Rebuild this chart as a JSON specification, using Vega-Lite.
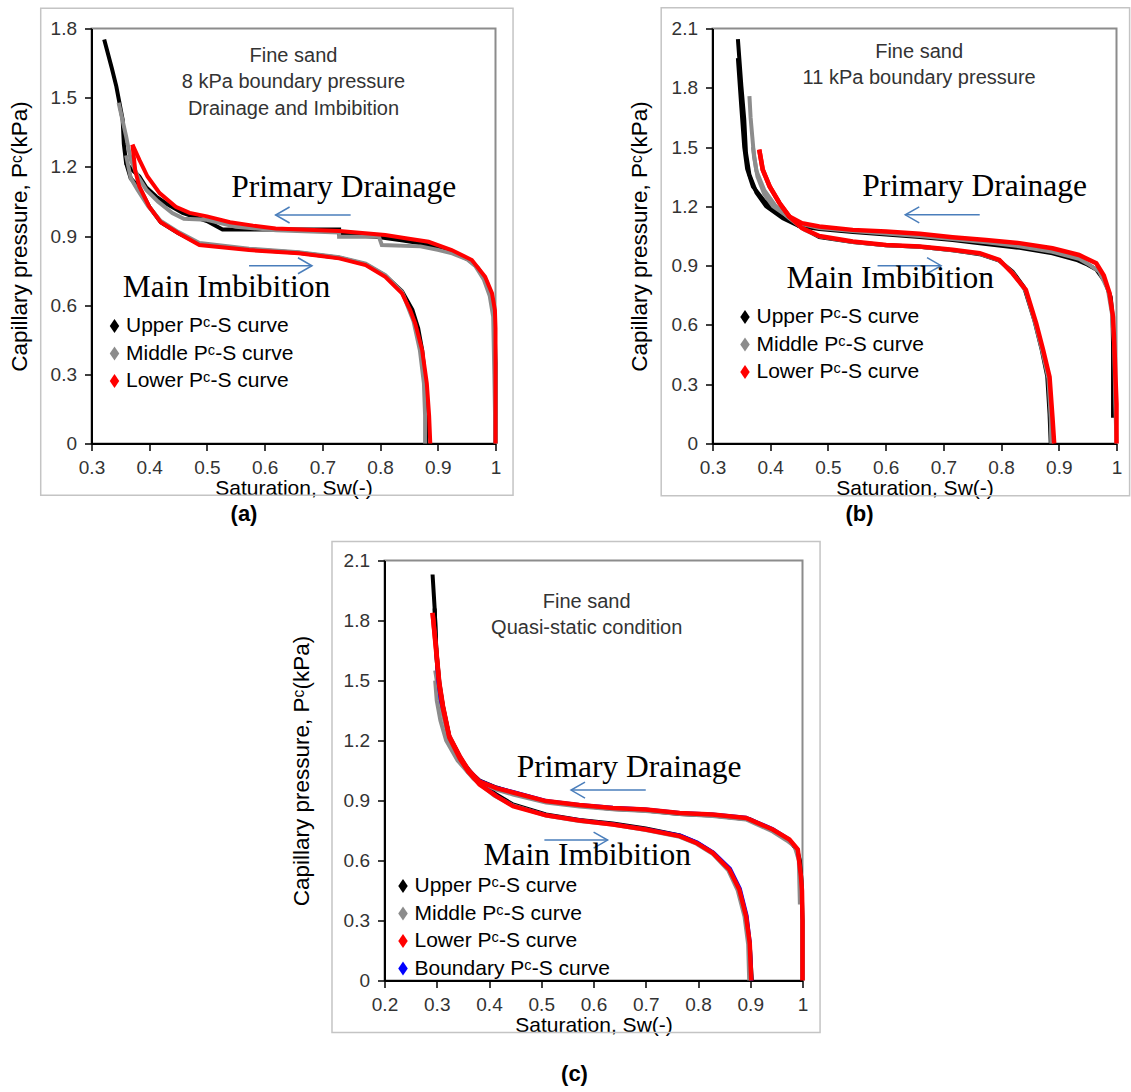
{
"$schema": "https://vega.github.io/schema/vega-lite/v6.json",
"background": "white",
"padding": {"left": 7.5, "top": 5.5, "right": 0, "bottom": 4},
"config": {
  "view": {"stroke": "#8c8c8c", "strokeWidth": 2},
  "font": "Liberation Sans",
  "axis": {"grid": false, "domainColor": "#000", "domainWidth": 2, "tickColor": "#000", "tickWidth": 1.5, "tickSize": 7, "labelFont": "Liberation Sans", "labelFontSize": 19, "labelColor": "#333", "labelPadding": 8, "titleFont": "Liberation Sans", "titleFontSize": 21, "titleFontWeight": "normal", "titleColor": "#000"},
  "axisX": {"titlePadding": 0, "labelFlush": false},
  "axisY": {"titleFontSize": 22.5},
  "legend": {"padding": 0, "labelFont": "Liberation Sans", "labelFontSize": 21, "labelColor": "#000", "rowPadding": 5.5, "labelOffset": 1, "labelLimit": 400, "symbolSize": 196},
  "title": {"font": "Liberation Sans", "fontSize": 22, "fontWeight": "bold", "orient": "bottom", "anchor": "middle", "color": "#000", "offset": 5}
},
"datasets": {
"A": [
{"c":"Upper","b":"D","S":1,"P":0},{"c":"Upper","b":"D","S":1,"P":0.35},{"c":"Upper","b":"D","S":0.998,"P":0.55},{"c":"Upper","b":"D","S":0.994,"P":0.63},{"c":"Upper","b":"D","S":0.985,"P":0.7},{"c":"Upper","b":"D","S":0.97,"P":0.76},{"c":"Upper","b":"D","S":0.955,"P":0.795},{"c":"Upper","b":"D","S":0.93,"P":0.825},{"c":"Upper","b":"D","S":0.9,"P":0.85},{"c":"Upper","b":"D","S":0.87,"P":0.868},{"c":"Upper","b":"D","S":0.84,"P":0.88},{"c":"Upper","b":"D","S":0.8,"P":0.895},{"c":"Upper","b":"D","S":0.729,"P":0.91},{"c":"Upper","b":"D","S":0.729,"P":0.928},{"c":"Upper","b":"D","S":0.527,"P":0.928},{"c":"Upper","b":"D","S":0.5,"P":0.965},{"c":"Upper","b":"D","S":0.458,"P":1.0},{"c":"Upper","b":"D","S":0.43,"P":1.04},{"c":"Upper","b":"D","S":0.412,"P":1.071},{"c":"Upper","b":"D","S":0.395,"P":1.11},{"c":"Upper","b":"D","S":0.383,"P":1.158},{"c":"Upper","b":"D","S":0.365,"P":1.2},{"c":"Upper","b":"D","S":0.36,"P":1.216},{"c":"Upper","b":"D","S":0.356,"P":1.3},{"c":"Upper","b":"D","S":0.354,"P":1.404},{"c":"Upper","b":"D","S":0.343,"P":1.549},{"c":"Upper","b":"D","S":0.335,"P":1.63},{"c":"Upper","b":"D","S":0.322,"P":1.752},
{"c":"Upper","b":"I","S":0.36,"P":1.216},{"c":"Upper","b":"I","S":0.368,"P":1.15},{"c":"Upper","b":"I","S":0.383,"P":1.11},{"c":"Upper","b":"I","S":0.4,"P":1.027},{"c":"Upper","b":"I","S":0.42,"P":0.96},{"c":"Upper","b":"I","S":0.45,"P":0.913},{"c":"Upper","b":"I","S":0.487,"P":0.865},{"c":"Upper","b":"I","S":0.573,"P":0.842},{"c":"Upper","b":"I","S":0.659,"P":0.827},{"c":"Upper","b":"I","S":0.729,"P":0.806},{"c":"Upper","b":"I","S":0.775,"P":0.777},{"c":"Upper","b":"I","S":0.809,"P":0.728},{"c":"Upper","b":"I","S":0.838,"P":0.66},{"c":"Upper","b":"I","S":0.856,"P":0.58},{"c":"Upper","b":"I","S":0.866,"P":0.5},{"c":"Upper","b":"I","S":0.873,"P":0.404},{"c":"Upper","b":"I","S":0.878,"P":0.28},{"c":"Upper","b":"I","S":0.88,"P":0.15},{"c":"Upper","b":"I","S":0.88,"P":0},
{"c":"Middle","b":"D","S":1,"P":0},{"c":"Middle","b":"D","S":0.998,"P":0.3},{"c":"Middle","b":"D","S":0.996,"P":0.55},{"c":"Middle","b":"D","S":0.99,"P":0.64},{"c":"Middle","b":"D","S":0.98,"P":0.71},{"c":"Middle","b":"D","S":0.965,"P":0.77},{"c":"Middle","b":"D","S":0.95,"P":0.8},{"c":"Middle","b":"D","S":0.925,"P":0.825},{"c":"Middle","b":"D","S":0.9,"P":0.84},{"c":"Middle","b":"D","S":0.87,"P":0.855},{"c":"Middle","b":"D","S":0.803,"P":0.861},{"c":"Middle","b":"D","S":0.798,"P":0.897},{"c":"Middle","b":"D","S":0.729,"P":0.897},{"c":"Middle","b":"D","S":0.729,"P":0.915},{"c":"Middle","b":"D","S":0.62,"P":0.925},{"c":"Middle","b":"D","S":0.55,"P":0.94},{"c":"Middle","b":"D","S":0.5,"P":0.97},{"c":"Middle","b":"D","S":0.46,"P":0.975},{"c":"Middle","b":"D","S":0.44,"P":1.0},{"c":"Middle","b":"D","S":0.415,"P":1.05},{"c":"Middle","b":"D","S":0.395,"P":1.1},{"c":"Middle","b":"D","S":0.38,"P":1.16},{"c":"Middle","b":"D","S":0.368,"P":1.23},{"c":"Middle","b":"D","S":0.36,"P":1.332},{"c":"Middle","b":"D","S":0.347,"P":1.478},
{"c":"Middle","b":"I","S":0.36,"P":1.25},{"c":"Middle","b":"I","S":0.368,"P":1.15},{"c":"Middle","b":"I","S":0.38,"P":1.1},{"c":"Middle","b":"I","S":0.398,"P":1.03},{"c":"Middle","b":"I","S":0.42,"P":0.965},{"c":"Middle","b":"I","S":0.45,"P":0.918},{"c":"Middle","b":"I","S":0.487,"P":0.87},{"c":"Middle","b":"I","S":0.573,"P":0.845},{"c":"Middle","b":"I","S":0.659,"P":0.83},{"c":"Middle","b":"I","S":0.729,"P":0.808},{"c":"Middle","b":"I","S":0.775,"P":0.78},{"c":"Middle","b":"I","S":0.809,"P":0.73},{"c":"Middle","b":"I","S":0.838,"P":0.658},{"c":"Middle","b":"I","S":0.858,"P":0.53},{"c":"Middle","b":"I","S":0.869,"P":0.404},{"c":"Middle","b":"I","S":0.876,"P":0.26},{"c":"Middle","b":"I","S":0.878,"P":0.12},{"c":"Middle","b":"I","S":0.878,"P":0},
{"c":"Lower","b":"D","S":1,"P":0},{"c":"Lower","b":"D","S":1,"P":0.3},{"c":"Lower","b":"D","S":1,"P":0.5},{"c":"Lower","b":"D","S":0.999,"P":0.578},{"c":"Lower","b":"D","S":0.994,"P":0.651},{"c":"Lower","b":"D","S":0.982,"P":0.723},{"c":"Lower","b":"D","S":0.959,"P":0.796},{"c":"Lower","b":"D","S":0.924,"P":0.839},{"c":"Lower","b":"D","S":0.884,"P":0.875},{"c":"Lower","b":"D","S":0.85,"P":0.888},{"c":"Lower","b":"D","S":0.809,"P":0.904},{"c":"Lower","b":"D","S":0.729,"P":0.922},{"c":"Lower","b":"D","S":0.619,"P":0.933},{"c":"Lower","b":"D","S":0.58,"P":0.945},{"c":"Lower","b":"D","S":0.54,"P":0.96},{"c":"Lower","b":"D","S":0.5,"P":0.985},{"c":"Lower","b":"D","S":0.47,"P":1.0},{"c":"Lower","b":"D","S":0.446,"P":1.027},{"c":"Lower","b":"D","S":0.418,"P":1.086},{"c":"Lower","b":"D","S":0.397,"P":1.158},{"c":"Lower","b":"D","S":0.383,"P":1.23},{"c":"Lower","b":"D","S":0.371,"P":1.296},
{"c":"Lower","b":"I","S":0.371,"P":1.296},{"c":"Lower","b":"I","S":0.376,"P":1.18},{"c":"Lower","b":"I","S":0.383,"P":1.114},{"c":"Lower","b":"I","S":0.4,"P":1.027},{"c":"Lower","b":"I","S":0.42,"P":0.96},{"c":"Lower","b":"I","S":0.45,"P":0.913},{"c":"Lower","b":"I","S":0.487,"P":0.861},{"c":"Lower","b":"I","S":0.573,"P":0.839},{"c":"Lower","b":"I","S":0.659,"P":0.825},{"c":"Lower","b":"I","S":0.729,"P":0.803},{"c":"Lower","b":"I","S":0.775,"P":0.774},{"c":"Lower","b":"I","S":0.809,"P":0.723},{"c":"Lower","b":"I","S":0.838,"P":0.651},{"c":"Lower","b":"I","S":0.852,"P":0.58},{"c":"Lower","b":"I","S":0.861,"P":0.52},{"c":"Lower","b":"I","S":0.873,"P":0.404},{"c":"Lower","b":"I","S":0.881,"P":0.26},{"c":"Lower","b":"I","S":0.885,"P":0.12},{"c":"Lower","b":"I","S":0.887,"P":0}
],
"B": [
{"c":"Upper","b":"D","S":0.994,"P":0.13},{"c":"Upper","b":"D","S":0.994,"P":0.5},{"c":"Upper","b":"D","S":0.993,"P":0.65},{"c":"Upper","b":"D","S":0.99,"P":0.74},{"c":"Upper","b":"D","S":0.98,"P":0.82},{"c":"Upper","b":"D","S":0.965,"P":0.88},{"c":"Upper","b":"D","S":0.95,"P":0.905},{"c":"Upper","b":"D","S":0.93,"P":0.93},{"c":"Upper","b":"D","S":0.889,"P":0.962},{"c":"Upper","b":"D","S":0.832,"P":0.99},{"c":"Upper","b":"D","S":0.774,"P":1.01},{"c":"Upper","b":"D","S":0.716,"P":1.03},{"c":"Upper","b":"D","S":0.659,"P":1.045},{"c":"Upper","b":"D","S":0.601,"P":1.058},{"c":"Upper","b":"D","S":0.543,"P":1.07},{"c":"Upper","b":"D","S":0.485,"P":1.085},{"c":"Upper","b":"D","S":0.45,"P":1.1},{"c":"Upper","b":"D","S":0.422,"P":1.14},{"c":"Upper","b":"D","S":0.393,"P":1.2},{"c":"Upper","b":"D","S":0.376,"P":1.27},{"c":"Upper","b":"D","S":0.364,"P":1.36},{"c":"Upper","b":"D","S":0.358,"P":1.471},{"c":"Upper","b":"D","S":0.355,"P":1.64},{"c":"Upper","b":"D","S":0.35,"P":1.809},{"c":"Upper","b":"D","S":0.344,"P":2.046},
{"c":"Upper","b":"I","S":0.344,"P":1.95},{"c":"Upper","b":"I","S":0.35,"P":1.7},{"c":"Upper","b":"I","S":0.355,"P":1.5},{"c":"Upper","b":"I","S":0.36,"P":1.39},{"c":"Upper","b":"I","S":0.37,"P":1.3},{"c":"Upper","b":"I","S":0.39,"P":1.226},{"c":"Upper","b":"I","S":0.422,"P":1.16},{"c":"Upper","b":"I","S":0.45,"P":1.1},{"c":"Upper","b":"I","S":0.485,"P":1.045},{"c":"Upper","b":"I","S":0.543,"P":1.02},{"c":"Upper","b":"I","S":0.601,"P":1.003},{"c":"Upper","b":"I","S":0.659,"P":0.995},{"c":"Upper","b":"I","S":0.716,"P":0.978},{"c":"Upper","b":"I","S":0.763,"P":0.958},{"c":"Upper","b":"I","S":0.797,"P":0.925},{"c":"Upper","b":"I","S":0.82,"P":0.87},{"c":"Upper","b":"I","S":0.84,"P":0.79},{"c":"Upper","b":"I","S":0.858,"P":0.62},{"c":"Upper","b":"I","S":0.87,"P":0.48},{"c":"Upper","b":"I","S":0.88,"P":0.34},{"c":"Upper","b":"I","S":0.884,"P":0.15},{"c":"Upper","b":"I","S":0.886,"P":0},
{"c":"Middle","b":"D","S":1,"P":0},{"c":"Middle","b":"D","S":0.998,"P":0.2},{"c":"Middle","b":"D","S":0.996,"P":0.5},{"c":"Middle","b":"D","S":0.992,"P":0.66},{"c":"Middle","b":"D","S":0.985,"P":0.78},{"c":"Middle","b":"D","S":0.97,"P":0.87},{"c":"Middle","b":"D","S":0.95,"P":0.91},{"c":"Middle","b":"D","S":0.935,"P":0.935},{"c":"Middle","b":"D","S":0.889,"P":0.97},{"c":"Middle","b":"D","S":0.832,"P":0.998},{"c":"Middle","b":"D","S":0.774,"P":1.018},{"c":"Middle","b":"D","S":0.716,"P":1.035},{"c":"Middle","b":"D","S":0.659,"P":1.05},{"c":"Middle","b":"D","S":0.601,"P":1.062},{"c":"Middle","b":"D","S":0.543,"P":1.075},{"c":"Middle","b":"D","S":0.485,"P":1.09},{"c":"Middle","b":"D","S":0.455,"P":1.11},{"c":"Middle","b":"D","S":0.43,"P":1.15},{"c":"Middle","b":"D","S":0.405,"P":1.2},{"c":"Middle","b":"D","S":0.39,"P":1.26},{"c":"Middle","b":"D","S":0.378,"P":1.35},{"c":"Middle","b":"D","S":0.372,"P":1.45},{"c":"Middle","b":"D","S":0.369,"P":1.55},{"c":"Middle","b":"D","S":0.366,"P":1.65},{"c":"Middle","b":"D","S":0.364,"P":1.758},
{"c":"Middle","b":"I","S":0.37,"P":1.5},{"c":"Middle","b":"I","S":0.376,"P":1.38},{"c":"Middle","b":"I","S":0.39,"P":1.28},{"c":"Middle","b":"I","S":0.41,"P":1.2},{"c":"Middle","b":"I","S":0.433,"P":1.14},{"c":"Middle","b":"I","S":0.46,"P":1.08},{"c":"Middle","b":"I","S":0.485,"P":1.048},{"c":"Middle","b":"I","S":0.543,"P":1.02},{"c":"Middle","b":"I","S":0.601,"P":1.003},{"c":"Middle","b":"I","S":0.659,"P":0.995},{"c":"Middle","b":"I","S":0.716,"P":0.978},{"c":"Middle","b":"I","S":0.763,"P":0.96},{"c":"Middle","b":"I","S":0.797,"P":0.927},{"c":"Middle","b":"I","S":0.82,"P":0.865},{"c":"Middle","b":"I","S":0.843,"P":0.77},{"c":"Middle","b":"I","S":0.86,"P":0.6},{"c":"Middle","b":"I","S":0.872,"P":0.46},{"c":"Middle","b":"I","S":0.882,"P":0.33},{"c":"Middle","b":"I","S":0.886,"P":0.13},{"c":"Middle","b":"I","S":0.887,"P":0},
{"c":"Lower","b":"D","S":1,"P":0},{"c":"Lower","b":"D","S":1,"P":0.2},{"c":"Lower","b":"D","S":0.998,"P":0.35},{"c":"Lower","b":"D","S":0.997,"P":0.44},{"c":"Lower","b":"D","S":0.994,"P":0.64},{"c":"Lower","b":"D","S":0.988,"P":0.76},{"c":"Lower","b":"D","S":0.978,"P":0.85},{"c":"Lower","b":"D","S":0.965,"P":0.912},{"c":"Lower","b":"D","S":0.935,"P":0.954},{"c":"Lower","b":"D","S":0.889,"P":0.988},{"c":"Lower","b":"D","S":0.832,"P":1.014},{"c":"Lower","b":"D","S":0.774,"P":1.03},{"c":"Lower","b":"D","S":0.716,"P":1.044},{"c":"Lower","b":"D","S":0.659,"P":1.061},{"c":"Lower","b":"D","S":0.601,"P":1.073},{"c":"Lower","b":"D","S":0.543,"P":1.081},{"c":"Lower","b":"D","S":0.485,"P":1.098},{"c":"Lower","b":"D","S":0.455,"P":1.115},{"c":"Lower","b":"D","S":0.433,"P":1.149},{"c":"Lower","b":"D","S":0.416,"P":1.217},{"c":"Lower","b":"D","S":0.399,"P":1.301},{"c":"Lower","b":"D","S":0.387,"P":1.386},{"c":"Lower","b":"D","S":0.381,"P":1.487},
{"c":"Lower","b":"I","S":0.381,"P":1.487},{"c":"Lower","b":"I","S":0.387,"P":1.386},{"c":"Lower","b":"I","S":0.399,"P":1.301},{"c":"Lower","b":"I","S":0.416,"P":1.217},{"c":"Lower","b":"I","S":0.433,"P":1.149},{"c":"Lower","b":"I","S":0.455,"P":1.09},{"c":"Lower","b":"I","S":0.485,"P":1.05},{"c":"Lower","b":"I","S":0.543,"P":1.022},{"c":"Lower","b":"I","S":0.601,"P":1.005},{"c":"Lower","b":"I","S":0.659,"P":0.997},{"c":"Lower","b":"I","S":0.716,"P":0.98},{"c":"Lower","b":"I","S":0.763,"P":0.963},{"c":"Lower","b":"I","S":0.797,"P":0.929},{"c":"Lower","b":"I","S":0.82,"P":0.86},{"c":"Lower","b":"I","S":0.843,"P":0.777},{"c":"Lower","b":"I","S":0.861,"P":0.607},{"c":"Lower","b":"I","S":0.873,"P":0.472},{"c":"Lower","b":"I","S":0.884,"P":0.337},{"c":"Lower","b":"I","S":0.889,"P":0.134},{"c":"Lower","b":"I","S":0.892,"P":0}
],
"C": [
{"c":"Upper","b":"D","S":1,"P":0},{"c":"Upper","b":"D","S":1,"P":0.3},{"c":"Upper","b":"D","S":0.998,"P":0.5},{"c":"Upper","b":"D","S":0.995,"P":0.6},{"c":"Upper","b":"D","S":0.99,"P":0.65},{"c":"Upper","b":"D","S":0.975,"P":0.7},{"c":"Upper","b":"D","S":0.943,"P":0.75},{"c":"Upper","b":"D","S":0.9,"P":0.805},{"c":"Upper","b":"D","S":0.828,"P":0.825},{"c":"Upper","b":"D","S":0.765,"P":0.833},{"c":"Upper","b":"D","S":0.7,"P":0.85},{"c":"Upper","b":"D","S":0.637,"P":0.858},{"c":"Upper","b":"D","S":0.573,"P":0.875},{"c":"Upper","b":"D","S":0.509,"P":0.895},{"c":"Upper","b":"D","S":0.446,"P":0.94},{"c":"Upper","b":"D","S":0.414,"P":0.965},{"c":"Upper","b":"D","S":0.382,"P":1.0},{"c":"Upper","b":"D","S":0.36,"P":1.05},{"c":"Upper","b":"D","S":0.344,"P":1.12},{"c":"Upper","b":"D","S":0.324,"P":1.22},{"c":"Upper","b":"D","S":0.312,"P":1.37},{"c":"Upper","b":"D","S":0.305,"P":1.49},{"c":"Upper","b":"D","S":0.299,"P":1.66},{"c":"Upper","b":"D","S":0.296,"P":1.86},{"c":"Upper","b":"D","S":0.292,"P":2.03},
{"c":"Upper","b":"I","S":0.296,"P":1.86},{"c":"Upper","b":"I","S":0.3,"P":1.6},{"c":"Upper","b":"I","S":0.305,"P":1.45},{"c":"Upper","b":"I","S":0.312,"P":1.35},{"c":"Upper","b":"I","S":0.324,"P":1.21},{"c":"Upper","b":"I","S":0.344,"P":1.11},{"c":"Upper","b":"I","S":0.375,"P":1.01},{"c":"Upper","b":"I","S":0.414,"P":0.93},{"c":"Upper","b":"I","S":0.446,"P":0.88},{"c":"Upper","b":"I","S":0.509,"P":0.83},{"c":"Upper","b":"I","S":0.573,"P":0.803},{"c":"Upper","b":"I","S":0.637,"P":0.785},{"c":"Upper","b":"I","S":0.7,"P":0.76},{"c":"Upper","b":"I","S":0.765,"P":0.725},{"c":"Upper","b":"I","S":0.797,"P":0.69},{"c":"Upper","b":"I","S":0.828,"P":0.64},{"c":"Upper","b":"I","S":0.86,"P":0.55},{"c":"Upper","b":"I","S":0.879,"P":0.45},{"c":"Upper","b":"I","S":0.892,"P":0.32},{"c":"Upper","b":"I","S":0.899,"P":0.18},{"c":"Upper","b":"I","S":0.903,"P":0},
{"c":"Middle","b":"D","S":0.995,"P":0.38},{"c":"Middle","b":"D","S":0.993,"P":0.6},{"c":"Middle","b":"D","S":0.985,"P":0.67},{"c":"Middle","b":"D","S":0.97,"P":0.7},{"c":"Middle","b":"D","S":0.943,"P":0.745},{"c":"Middle","b":"D","S":0.892,"P":0.805},{"c":"Middle","b":"D","S":0.828,"P":0.823},{"c":"Middle","b":"D","S":0.765,"P":0.832},{"c":"Middle","b":"D","S":0.7,"P":0.848},{"c":"Middle","b":"D","S":0.637,"P":0.856},{"c":"Middle","b":"D","S":0.573,"P":0.87},{"c":"Middle","b":"D","S":0.509,"P":0.89},{"c":"Middle","b":"D","S":0.446,"P":0.93},{"c":"Middle","b":"D","S":0.414,"P":0.955},{"c":"Middle","b":"D","S":0.382,"P":0.99},{"c":"Middle","b":"D","S":0.36,"P":1.04},{"c":"Middle","b":"D","S":0.344,"P":1.1},{"c":"Middle","b":"D","S":0.324,"P":1.2},{"c":"Middle","b":"D","S":0.312,"P":1.33},{"c":"Middle","b":"D","S":0.303,"P":1.45},{"c":"Middle","b":"D","S":0.297,"P":1.55},
{"c":"Middle","b":"I","S":0.297,"P":1.5},{"c":"Middle","b":"I","S":0.3,"P":1.4},{"c":"Middle","b":"I","S":0.307,"P":1.3},{"c":"Middle","b":"I","S":0.318,"P":1.2},{"c":"Middle","b":"I","S":0.34,"P":1.1},{"c":"Middle","b":"I","S":0.37,"P":1.01},{"c":"Middle","b":"I","S":0.41,"P":0.925},{"c":"Middle","b":"I","S":0.446,"P":0.875},{"c":"Middle","b":"I","S":0.509,"P":0.825},{"c":"Middle","b":"I","S":0.573,"P":0.798},{"c":"Middle","b":"I","S":0.637,"P":0.78},{"c":"Middle","b":"I","S":0.7,"P":0.752},{"c":"Middle","b":"I","S":0.765,"P":0.718},{"c":"Middle","b":"I","S":0.797,"P":0.684},{"c":"Middle","b":"I","S":0.828,"P":0.634},{"c":"Middle","b":"I","S":0.858,"P":0.55},{"c":"Middle","b":"I","S":0.876,"P":0.45},{"c":"Middle","b":"I","S":0.889,"P":0.32},{"c":"Middle","b":"I","S":0.896,"P":0.18},{"c":"Middle","b":"I","S":0.898,"P":0},
{"c":"Boundary","b":"D","S":1,"P":0.05},{"c":"Boundary","b":"D","S":1,"P":0.3},{"c":"Boundary","b":"D","S":0.998,"P":0.5},{"c":"Boundary","b":"D","S":0.99,"P":0.66},{"c":"Boundary","b":"D","S":0.973,"P":0.71},{"c":"Boundary","b":"D","S":0.943,"P":0.76},{"c":"Boundary","b":"D","S":0.892,"P":0.816},{"c":"Boundary","b":"D","S":0.828,"P":0.832},{"c":"Boundary","b":"D","S":0.765,"P":0.84},{"c":"Boundary","b":"D","S":0.7,"P":0.857},{"c":"Boundary","b":"D","S":0.637,"P":0.866},{"c":"Boundary","b":"D","S":0.573,"P":0.88},{"c":"Boundary","b":"D","S":0.509,"P":0.9},{"c":"Boundary","b":"D","S":0.446,"P":0.945},{"c":"Boundary","b":"D","S":0.414,"P":0.966},{"c":"Boundary","b":"D","S":0.382,"P":1.0},{"c":"Boundary","b":"D","S":0.36,"P":1.058},{"c":"Boundary","b":"D","S":0.344,"P":1.125},{"c":"Boundary","b":"D","S":0.324,"P":1.225},{"c":"Boundary","b":"D","S":0.312,"P":1.37},{"c":"Boundary","b":"D","S":0.305,"P":1.49},{"c":"Boundary","b":"D","S":0.3,"P":1.6},{"c":"Boundary","b":"D","S":0.297,"P":1.75},
{"c":"Boundary","b":"I","S":0.297,"P":1.7},{"c":"Boundary","b":"I","S":0.302,"P":1.5},{"c":"Boundary","b":"I","S":0.307,"P":1.4},{"c":"Boundary","b":"I","S":0.314,"P":1.33},{"c":"Boundary","b":"I","S":0.326,"P":1.21},{"c":"Boundary","b":"I","S":0.346,"P":1.11},{"c":"Boundary","b":"I","S":0.362,"P":1.045},{"c":"Boundary","b":"I","S":0.384,"P":0.98},{"c":"Boundary","b":"I","S":0.416,"P":0.922},{"c":"Boundary","b":"I","S":0.448,"P":0.872},{"c":"Boundary","b":"I","S":0.511,"P":0.828},{"c":"Boundary","b":"I","S":0.575,"P":0.803},{"c":"Boundary","b":"I","S":0.639,"P":0.783},{"c":"Boundary","b":"I","S":0.702,"P":0.758},{"c":"Boundary","b":"I","S":0.767,"P":0.726},{"c":"Boundary","b":"I","S":0.799,"P":0.692},{"c":"Boundary","b":"I","S":0.83,"P":0.642},{"c":"Boundary","b":"I","S":0.862,"P":0.56},{"c":"Boundary","b":"I","S":0.881,"P":0.46},{"c":"Boundary","b":"I","S":0.894,"P":0.325},{"c":"Boundary","b":"I","S":0.9,"P":0.19},{"c":"Boundary","b":"I","S":0.903,"P":0},
{"c":"Lower","b":"D","S":1,"P":0},{"c":"Lower","b":"D","S":1,"P":0.3},{"c":"Lower","b":"D","S":0.999,"P":0.45},{"c":"Lower","b":"D","S":0.997,"P":0.522},{"c":"Lower","b":"D","S":0.991,"P":0.655},{"c":"Lower","b":"D","S":0.975,"P":0.705},{"c":"Lower","b":"D","S":0.943,"P":0.755},{"c":"Lower","b":"D","S":0.892,"P":0.813},{"c":"Lower","b":"D","S":0.828,"P":0.83},{"c":"Lower","b":"D","S":0.765,"P":0.838},{"c":"Lower","b":"D","S":0.7,"P":0.855},{"c":"Lower","b":"D","S":0.637,"P":0.863},{"c":"Lower","b":"D","S":0.573,"P":0.877},{"c":"Lower","b":"D","S":0.509,"P":0.897},{"c":"Lower","b":"D","S":0.446,"P":0.94},{"c":"Lower","b":"D","S":0.414,"P":0.962},{"c":"Lower","b":"D","S":0.382,"P":0.995},{"c":"Lower","b":"D","S":0.36,"P":1.055},{"c":"Lower","b":"D","S":0.344,"P":1.122},{"c":"Lower","b":"D","S":0.324,"P":1.222},{"c":"Lower","b":"D","S":0.312,"P":1.372},{"c":"Lower","b":"D","S":0.305,"P":1.488},{"c":"Lower","b":"D","S":0.299,"P":1.655},{"c":"Lower","b":"D","S":0.292,"P":1.838},
{"c":"Lower","b":"I","S":0.292,"P":1.838},{"c":"Lower","b":"I","S":0.299,"P":1.64},{"c":"Lower","b":"I","S":0.305,"P":1.47},{"c":"Lower","b":"I","S":0.312,"P":1.36},{"c":"Lower","b":"I","S":0.324,"P":1.215},{"c":"Lower","b":"I","S":0.344,"P":1.11},{"c":"Lower","b":"I","S":0.36,"P":1.045},{"c":"Lower","b":"I","S":0.382,"P":0.98},{"c":"Lower","b":"I","S":0.414,"P":0.922},{"c":"Lower","b":"I","S":0.446,"P":0.872},{"c":"Lower","b":"I","S":0.509,"P":0.826},{"c":"Lower","b":"I","S":0.573,"P":0.8},{"c":"Lower","b":"I","S":0.637,"P":0.78},{"c":"Lower","b":"I","S":0.7,"P":0.755},{"c":"Lower","b":"I","S":0.765,"P":0.722},{"c":"Lower","b":"I","S":0.797,"P":0.688},{"c":"Lower","b":"I","S":0.828,"P":0.638},{"c":"Lower","b":"I","S":0.86,"P":0.555},{"c":"Lower","b":"I","S":0.879,"P":0.455},{"c":"Lower","b":"I","S":0.892,"P":0.322},{"c":"Lower","b":"I","S":0.899,"P":0.188},{"c":"Lower","b":"I","S":0.902,"P":0}
]
},
"spacing": 14,
"resolve": {"scale": {"color": "independent"}, "legend": {"color": "independent"}},
"vconcat": [
{
 "spacing": 112,
 "resolve": {"scale": {"color": "independent"}, "legend": {"color": "independent"}},
 "hconcat": [
 {
  "width": 404, "height": 415,
  "title": {"text": "(a)", "dx": -49.5},
  "layer": [
   {
    "data": {"values": [{"x1": 0.212, "x2": 1.0304, "y1": 1.888, "y2": -0.2245}]},
    "mark": {"type": "rect", "filled": false, "stroke": "#c4c4c4", "strokeWidth": 1.5},
    "encoding": {"x": {"field": "x1", "type": "quantitative"}, "x2": {"field": "x2"}, "y": {"field": "y1", "type": "quantitative"}, "y2": {"field": "y2"}}
   },
   {
    "data": {"name": "A"},
    "encoding": {
     "x": {"field": "S", "type": "quantitative", "scale": {"domain": [0.3, 1], "nice": false, "zero": false}, "axis": {"values": [0.3,0.4,0.5,0.6,0.7,0.8,0.9,1], "format": "~g", "title": "Saturation, Sw(-)"}},
     "y": {"field": "P", "type": "quantitative", "scale": {"domain": [0, 1.8], "nice": false}, "axis": {"values": [0,0.3,0.6,0.9,1.2,1.5,1.8], "format": "~g", "title": "Capillary pressure, Pᶜ(kPa)", "titlePadding": 18.5}},
     "stroke": {"field": "c", "type": "nominal", "scale": {"domain": ["Upper","Middle","Lower","Boundary"], "range": ["#000000","#8c8c8c","#ff0000","#0000ff"]}, "legend": null},
     "detail": {"field": "b"},
     "order": {"value": null}
    },
    "layer": [
     {"transform": [{"filter": "datum.c === 'Upper'"}], "mark": {"type": "line", "strokeWidth": 4}},
     {"transform": [{"filter": "datum.c === 'Middle'"}], "mark": {"type": "line", "strokeWidth": 4}},
     {"transform": [{"filter": "datum.c === 'Lower'"}], "mark": {"type": "line", "strokeWidth": 4}}
    ]
   },
   {
    "data": {"name": "A"},
    "transform": [{"filter": "false"}],
    "mark": {"type": "point", "filled": true, "opacity": 1, "shape": "M0,-1L0.68,0L0,1L-0.68,0Z"},
    "encoding": {
     "x": {"field": "S", "type": "quantitative"},
     "y": {"field": "P", "type": "quantitative"},
     "color": {"field": "c", "type": "nominal", "scale": {"domain": ["Upper","Middle","Lower"], "range": ["#000000","#8c8c8c","#ff0000"]}, "legend": {"orient": "none", "legendX": 12.5, "legendY": 287, "title": null, "labelExpr": "datum.label + ' Pᶜ-S curve'"}}
    }
   },
   {
    "data": {"values": [{"from": 0.749, "to": 0.619, "P": 0.991, "d": "L"}, {"from": 0.573, "to": 0.682, "P": 0.771, "d": "R"}]},
    "mark": {"type": "rule", "color": "#4a7ebb", "strokeWidth": 1.5},
    "encoding": {"x": {"field": "from", "type": "quantitative"}, "x2": {"field": "to"}, "y": {"field": "P", "type": "quantitative"}}
   },
   {
    "data": {"values": [{"from": 0.749, "to": 0.619, "P": 0.991, "d": "L"}, {"from": 0.573, "to": 0.682, "P": 0.771, "d": "R"}]},
    "mark": {"type": "point", "filled": false, "color": "#4a7ebb", "strokeWidth": 1.5, "size": 256, "opacity": 1},
    "encoding": {"x": {"field": "to", "type": "quantitative"}, "y": {"field": "P", "type": "quantitative"}, "shape": {"field": "d", "type": "nominal", "scale": {"domain": ["L","R"], "range": ["M1.75,-1L0,0L1.75,1", "M-1.75,-1L0,0L-1.75,1"]}, "legend": null}}
   },
   {
    "data": {"values": [{"S": 0.65, "P": 1.655, "t": "Fine sand"}, {"S": 0.65, "P": 1.54, "t": "8 kPa boundary pressure"}, {"S": 0.65, "P": 1.425, "t": "Drainage and Imbibition"}]},
    "mark": {"type": "text", "font": "Liberation Sans", "fontSize": 20, "color": "#333", "align": "center", "baseline": "alphabetic"},
    "encoding": {"x": {"field": "S", "type": "quantitative"}, "y": {"field": "P", "type": "quantitative"}, "text": {"field": "t"}}
   },
   {
    "data": {"values": [{"S": 0.737, "P": 1.071, "t": "Primary Drainage"}, {"S": 0.534, "P": 0.637, "t": "Main Imbibition"}]},
    "mark": {"type": "text", "font": "Liberation Serif", "fontSize": 31.5, "color": "#000", "align": "center", "baseline": "alphabetic"},
    "encoding": {"x": {"field": "S", "type": "quantitative"}, "y": {"field": "P", "type": "quantitative"}, "text": {"field": "t"}}
   }
  ]
 },
 {
  "width": 404, "height": 415,
  "title": {"text": "(b)", "dx": -55},
  "layer": [
   {
    "data": {"values": [{"x1": 0.2111, "x2": 1.0227, "y1": 2.2056, "y2": -0.264}]},
    "mark": {"type": "rect", "filled": false, "stroke": "#c4c4c4", "strokeWidth": 1.5},
    "encoding": {"x": {"field": "x1", "type": "quantitative"}, "x2": {"field": "x2"}, "y": {"field": "y1", "type": "quantitative"}, "y2": {"field": "y2"}}
   },
   {
    "data": {"name": "B"},
    "encoding": {
     "x": {"field": "S", "type": "quantitative", "scale": {"domain": [0.3, 1], "nice": false, "zero": false}, "axis": {"values": [0.3,0.4,0.5,0.6,0.7,0.8,0.9,1], "format": "~g", "title": "Saturation, Sw(-)"}},
     "y": {"field": "P", "type": "quantitative", "scale": {"domain": [0, 2.1], "nice": false}, "axis": {"values": [0,0.3,0.6,0.9,1.2,1.5,1.8,2.1], "format": "~g", "title": "Capillary pressure, Pᶜ(kPa)", "titlePadding": 19.5}},
     "stroke": {"field": "c", "type": "nominal", "scale": {"domain": ["Upper","Middle","Lower","Boundary"], "range": ["#000000","#8c8c8c","#ff0000","#0000ff"]}, "legend": null},
     "detail": {"field": "b"},
     "order": {"value": null}
    },
    "layer": [
     {"transform": [{"filter": "datum.c === 'Upper'"}], "mark": {"type": "line", "strokeWidth": 4}},
     {"transform": [{"filter": "datum.c === 'Middle'"}], "mark": {"type": "line", "strokeWidth": 4}},
     {"transform": [{"filter": "datum.c === 'Lower'"}], "mark": {"type": "line", "strokeWidth": 4.5}}
    ]
   },
   {
    "data": {"name": "B"},
    "transform": [{"filter": "false"}],
    "mark": {"type": "point", "filled": true, "opacity": 1, "shape": "M0,-1L0.68,0L0,1L-0.68,0Z"},
    "encoding": {
     "x": {"field": "S", "type": "quantitative"},
     "y": {"field": "P", "type": "quantitative"},
     "color": {"field": "c", "type": "nominal", "scale": {"domain": ["Upper","Middle","Lower"], "range": ["#000000","#8c8c8c","#ff0000"]}, "legend": {"orient": "none", "legendX": 22, "legendY": 278, "title": null, "labelExpr": "datum.label + ' Pᶜ-S curve'"}}
    }
   },
   {
    "data": {"values": [{"from": 0.763, "to": 0.634, "P": 1.157, "d": "L"}, {"from": 0.586, "to": 0.696, "P": 0.9, "d": "R"}]},
    "mark": {"type": "rule", "color": "#4a7ebb", "strokeWidth": 1.5},
    "encoding": {"x": {"field": "from", "type": "quantitative"}, "x2": {"field": "to"}, "y": {"field": "P", "type": "quantitative"}}
   },
   {
    "data": {"values": [{"from": 0.763, "to": 0.634, "P": 1.157, "d": "L"}, {"from": 0.586, "to": 0.696, "P": 0.9, "d": "R"}]},
    "mark": {"type": "point", "filled": false, "color": "#4a7ebb", "strokeWidth": 1.5, "size": 256, "opacity": 1},
    "encoding": {"x": {"field": "to", "type": "quantitative"}, "y": {"field": "P", "type": "quantitative"}, "shape": {"field": "d", "type": "nominal", "scale": {"domain": ["L","R"], "range": ["M1.75,-1L0,0L1.75,1", "M-1.75,-1L0,0L-1.75,1"]}, "legend": null}}
   },
   {
    "data": {"values": [{"S": 0.658, "P": 1.953, "t": "Fine sand"}, {"S": 0.658, "P": 1.817, "t": "11 kPa boundary pressure"}]},
    "mark": {"type": "text", "font": "Liberation Sans", "fontSize": 20, "color": "#333", "align": "center", "baseline": "alphabetic"},
    "encoding": {"x": {"field": "S", "type": "quantitative"}, "y": {"field": "P", "type": "quantitative"}, "text": {"field": "t"}}
   },
   {
    "data": {"values": [{"S": 0.754, "P": 1.25, "t": "Primary Drainage"}, {"S": 0.608, "P": 0.785, "t": "Main Imbibition"}]},
    "mark": {"type": "text", "font": "Liberation Serif", "fontSize": 31.5, "color": "#000", "align": "center", "baseline": "alphabetic"},
    "encoding": {"x": {"field": "S", "type": "quantitative"}, "y": {"field": "P", "type": "quantitative"}, "text": {"field": "t"}}
   }
  ]
 }
 ]
},
{
 "spacing": 0,
 "resolve": {"scale": {"color": "independent"}, "legend": {"color": "independent"}},
 "hconcat": [
 {
  "width": 197.5, "height": 10,
  "data": {"values": []},
  "mark": "point",
  "view": {"stroke": null}
 },
 {
  "width": 418, "height": 420,
  "title": {"text": "(c)", "dx": -19, "offset": 28},
  "layer": [
   {
    "data": {"values": [{"x1": 0.0995, "x2": 1.0336, "y1": 2.195, "y2": -0.26}]},
    "mark": {"type": "rect", "filled": false, "stroke": "#c4c4c4", "strokeWidth": 1.5},
    "encoding": {"x": {"field": "x1", "type": "quantitative"}, "x2": {"field": "x2"}, "y": {"field": "y1", "type": "quantitative"}, "y2": {"field": "y2"}}
   },
   {
    "data": {"name": "C"},
    "encoding": {
     "x": {"field": "S", "type": "quantitative", "scale": {"domain": [0.2, 1], "nice": false, "zero": false}, "axis": {"values": [0.2,0.3,0.4,0.5,0.6,0.7,0.8,0.9,1], "format": "~g", "title": "Saturation, Sw(-)"}},
     "y": {"field": "P", "type": "quantitative", "scale": {"domain": [0, 2.1], "nice": false}, "axis": {"values": [0,0.3,0.6,0.9,1.2,1.5,1.8,2.1], "format": "~g", "title": "Capillary pressure, Pᶜ(kPa)", "titlePadding": 29.5}},
     "stroke": {"field": "c", "type": "nominal", "scale": {"domain": ["Upper","Middle","Lower","Boundary"], "range": ["#000000","#8c8c8c","#ff0000","#0000ff"]}, "legend": null},
     "detail": {"field": "b"},
     "order": {"value": null}
    },
    "layer": [
     {"transform": [{"filter": "datum.c === 'Upper'"}], "mark": {"type": "line", "strokeWidth": 4}},
     {"transform": [{"filter": "datum.c === 'Middle'"}], "mark": {"type": "line", "strokeWidth": 4}},
     {"transform": [{"filter": "datum.c === 'Boundary'"}], "mark": {"type": "line", "strokeWidth": 3}},
     {"transform": [{"filter": "datum.c === 'Lower'"}], "mark": {"type": "line", "strokeWidth": 4.5}}
    ]
   },
   {
    "data": {"name": "C"},
    "transform": [{"filter": "false"}],
    "mark": {"type": "point", "filled": true, "opacity": 1, "shape": "M0,-1L0.68,0L0,1L-0.68,0Z"},
    "encoding": {
     "x": {"field": "S", "type": "quantitative"},
     "y": {"field": "P", "type": "quantitative"},
     "color": {"field": "c", "type": "nominal", "scale": {"domain": ["Upper","Middle","Lower","Boundary"], "range": ["#000000","#8c8c8c","#ff0000","#0000ff"]}, "legend": {"orient": "none", "legendX": 8, "legendY": 315, "title": null, "labelExpr": "datum.label + ' Pᶜ-S curve'"}}
    }
   },
   {
    "data": {"values": [{"from": 0.7, "to": 0.557, "P": 0.952, "d": "L"}, {"from": 0.506, "to": 0.627, "P": 0.702, "d": "R"}]},
    "mark": {"type": "rule", "color": "#4a7ebb", "strokeWidth": 1.5},
    "encoding": {"x": {"field": "from", "type": "quantitative"}, "x2": {"field": "to"}, "y": {"field": "P", "type": "quantitative"}}
   },
   {
    "data": {"values": [{"from": 0.7, "to": 0.557, "P": 0.952, "d": "L"}, {"from": 0.506, "to": 0.627, "P": 0.702, "d": "R"}]},
    "mark": {"type": "point", "filled": false, "color": "#4a7ebb", "strokeWidth": 1.5, "size": 256, "opacity": 1},
    "encoding": {"x": {"field": "to", "type": "quantitative"}, "y": {"field": "P", "type": "quantitative"}, "shape": {"field": "d", "type": "nominal", "scale": {"domain": ["L","R"], "range": ["M1.75,-1L0,0L1.75,1", "M-1.75,-1L0,0L-1.75,1"]}, "legend": null}}
   },
   {
    "data": {"values": [{"S": 0.587, "P": 1.863, "t": "Fine sand"}, {"S": 0.587, "P": 1.735, "t": "Quasi-static condition"}]},
    "mark": {"type": "text", "font": "Liberation Sans", "fontSize": 20, "color": "#333", "align": "center", "baseline": "alphabetic"},
    "encoding": {"x": {"field": "S", "type": "quantitative"}, "y": {"field": "P", "type": "quantitative"}, "text": {"field": "t"}}
   },
   {
    "data": {"values": [{"S": 0.668, "P": 1.02, "t": "Primary Drainage"}, {"S": 0.588, "P": 0.58, "t": "Main Imbibition"}]},
    "mark": {"type": "text", "font": "Liberation Serif", "fontSize": 31.5, "color": "#000", "align": "center", "baseline": "alphabetic"},
    "encoding": {"x": {"field": "S", "type": "quantitative"}, "y": {"field": "P", "type": "quantitative"}, "text": {"field": "t"}}
   }
  ]
 }
 ]
}
]
}
